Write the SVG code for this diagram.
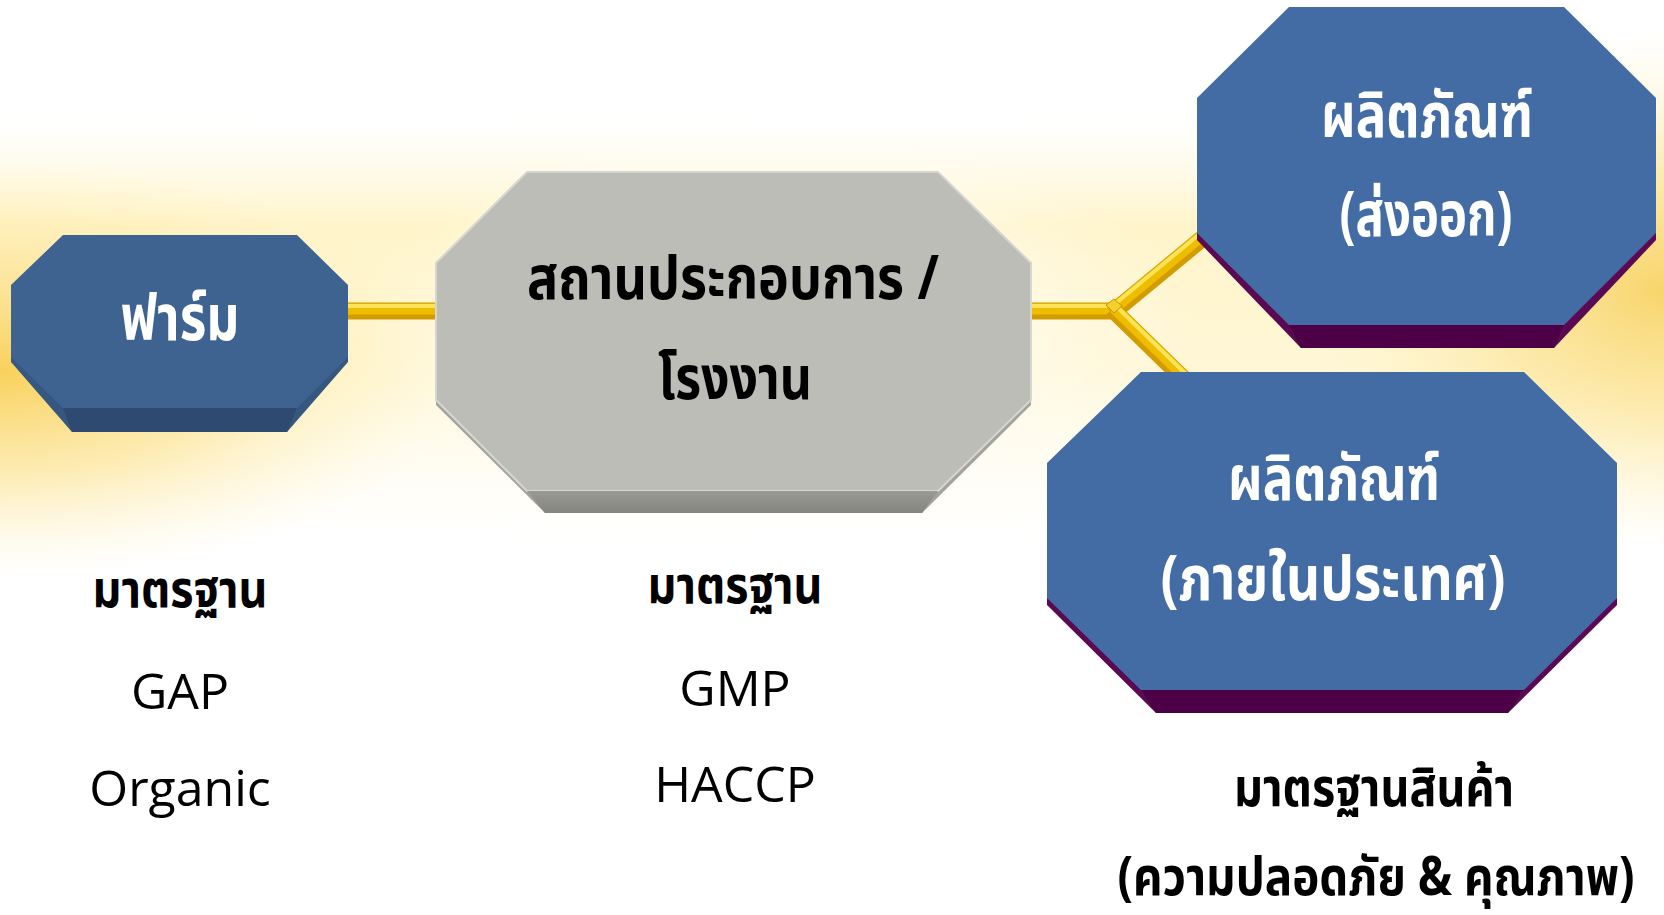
<svg xmlns="http://www.w3.org/2000/svg" width="1664" height="915" viewBox="0 0 1664 915">
<defs>
<linearGradient id="bandV" x1="0" y1="0" x2="0" y2="1">
<stop offset="0" stop-color="#fff7d6" stop-opacity="0"/>
<stop offset="0.25" stop-color="#fff3c4" stop-opacity="0.9"/>
<stop offset="0.6" stop-color="#fff6d2" stop-opacity="0.9"/>
<stop offset="1" stop-color="#fffbe9" stop-opacity="0"/>
</linearGradient>
<radialGradient id="glowL" cx="0.5" cy="0.5" r="0.5">
<stop offset="0" stop-color="#f8cf55" stop-opacity="0.95"/>
<stop offset="0.5" stop-color="#fbe08a" stop-opacity="0.6"/>
<stop offset="1" stop-color="#fff3c4" stop-opacity="0"/>
</radialGradient>
<radialGradient id="glowR" cx="0.5" cy="0.5" r="0.5">
<stop offset="0" stop-color="#f7d160" stop-opacity="0.9"/>
<stop offset="0.5" stop-color="#fbe18e" stop-opacity="0.55"/>
<stop offset="1" stop-color="#fff3c4" stop-opacity="0"/>
</radialGradient>
<radialGradient id="glowW" cx="0.5" cy="0.5" r="0.5">
<stop offset="0" stop-color="#ffffff" stop-opacity="0.9"/>
<stop offset="1" stop-color="#ffffff" stop-opacity="0"/>
</radialGradient>
<linearGradient id="grayBand" x1="0" y1="0" x2="0" y2="1">
<stop offset="0" stop-color="#9a9a94"/>
<stop offset="1" stop-color="#85857f"/>
</linearGradient>
<style>
.thai{font-family:'Noto Sans Thai','Noto Sans Thai UI','Noto Sans',Tahoma,sans-serif;font-weight:bold;text-anchor:middle}
.w{fill:#ffffff}
.k{fill:#000000}
.lat{font-family:'Open Sans','Segoe UI','Noto Sans',sans-serif;font-weight:normal;text-anchor:middle;fill:#000000}
.bar0{stroke:#d29c00;stroke-width:17;fill:none;stroke-linecap:butt}
.bar1{stroke:#efbd00;stroke-width:11;fill:none}
.bar2{stroke:#ffe45a;stroke-width:4;fill:none}
.blueFace{fill:#3e6391}
.blueBack{fill:#36577f}
.blueBand{fill:#2f4a70}
.rFace{fill:#426ca3}
.rBack{fill:#5a0a52}
.rBand{fill:#4d0046}
.gFace{fill:#bdbdb7;stroke:#d6d6d1;stroke-width:2}
.gBack{fill:#a3a39d}
</style>
</defs>
<rect x="0" y="0" width="1664" height="915" fill="#ffffff"/>
<g id="background">
<rect x="0" y="120" width="1664" height="420" fill="url(#bandV)"/>
<ellipse cx="0" cy="370" rx="460" ry="210" fill="url(#glowL)"/>
<ellipse cx="1664" cy="290" rx="360" ry="260" fill="url(#glowR)"/>
<ellipse cx="780" cy="330" rx="420" ry="200" fill="url(#glowW)"/>
</g>
<g id="connectors">
<line class="bar0" x1="340" y1="311" x2="445" y2="311"/>
<line class="bar1" x1="340" y1="309" x2="445" y2="309"/>
<line class="bar2" x1="340" y1="306" x2="445" y2="306"/>
<line class="bar0" x1="1025" y1="311" x2="1116" y2="311"/>
<line class="bar1" x1="1025" y1="309" x2="1114" y2="309"/>
<line class="bar2" x1="1025" y1="306" x2="1112" y2="306"/>
<line class="bar0" x1="1112" y1="313" x2="1215" y2="228"/>
<line class="bar1" x1="1111" y1="311" x2="1214" y2="226"/>
<line class="bar2" x1="1110" y1="308" x2="1213" y2="223"/>
<line class="bar0" x1="1112" y1="309" x2="1190" y2="385"/>
<line class="bar1" x1="1114" y1="308" x2="1191" y2="383"/>
<line class="bar2" x1="1116" y1="306" x2="1193" y2="381"/>
<polygon points="1106,305 1114,299 1122,306 1114,313" fill="#f5cf2a" stroke="#c99500" stroke-width="1"/>
</g>
<g id="node-farm">
<polygon class="blueBack" points="11,290 348,290 348,362 287,432 72,432 11,362"/>
<polygon class="blueFace" points="63,235 297,235 348,285 348,357 297,408 63,408 11,357 11,285"/>
<polygon class="blueBand" points="63,408 297,408 287,432 72,432"/>
<text class="thai w" x="180" y="340" font-size="64" textLength="119" lengthAdjust="spacingAndGlyphs">ฟาร์ม</text>
</g>
<g id="node-factory">
<polygon class="gBack" points="436,270 1031,270 1031,405 922,513 545,513 436,405"/>
<polygon class="gFace" points="527,172 938,172 1031,263 1031,400 938,491 527,491 436,400 436,263"/>
<polygon fill="url(#grayBand)" points="527,491 938,491 922,513 545,513"/>
<text class="thai k" x="733" y="299" font-size="61" textLength="412" lengthAdjust="spacingAndGlyphs">สถานประกอบการ /</text>
<text class="thai k" x="735" y="399" font-size="61" textLength="154" lengthAdjust="spacingAndGlyphs">โรงงาน</text>
</g>
<g id="node-export">
<polygon class="rBack" points="1197,105 1656,105 1656,240 1554,348 1301,348 1197,240"/>
<polygon class="rFace" points="1289,7 1564,7 1656,98 1656,233 1564,325 1289,325 1197,233 1197,98"/>
<polygon class="rBand" points="1289,325 1564,325 1554,348 1301,348"/>
<text class="thai w" x="1427" y="137" font-size="62" textLength="212" lengthAdjust="spacingAndGlyphs">ผลิตภัณฑ์</text>
<text class="thai w" x="1426" y="236" font-size="62" textLength="173" lengthAdjust="spacingAndGlyphs">(ส่งออก)</text>
</g>
<g id="node-domestic">
<polygon class="rBack" points="1047,470 1617,470 1617,605 1508,713 1156,713 1047,605"/>
<polygon class="rFace" points="1141,372 1524,372 1617,463 1617,598 1524,690 1141,690 1047,598 1047,463"/>
<polygon class="rBand" points="1141,690 1524,690 1508,713 1156,713"/>
<text class="thai w" x="1334" y="500" font-size="62" textLength="212" lengthAdjust="spacingAndGlyphs">ผลิตภัณฑ์</text>
<text class="thai w" x="1333" y="600" font-size="62" textLength="345" lengthAdjust="spacingAndGlyphs">(ภายในประเทศ)</text>
</g>
<g id="labels">
<text class="thai k" x="180" y="607" font-size="51" textLength="175" lengthAdjust="spacingAndGlyphs">มาตรฐาน</text>
<text class="lat" x="180" y="709" font-size="50">GAP</text>
<text class="lat" x="180" y="806" font-size="50">Organic</text>
<text class="thai k" x="735" y="603" font-size="51" textLength="175" lengthAdjust="spacingAndGlyphs">มาตรฐาน</text>
<text class="lat" x="735" y="706" font-size="50">GMP</text>
<text class="lat" x="735" y="802" font-size="50">HACCP</text>
<text class="thai k" x="1374" y="806" font-size="53" textLength="280" lengthAdjust="spacingAndGlyphs">มาตรฐานสินค้า</text>
<text class="thai k" x="1376" y="895" font-size="53" textLength="517" lengthAdjust="spacingAndGlyphs">(ความปลอดภัย &amp; คุณภาพ)</text>
</g>
</svg>
